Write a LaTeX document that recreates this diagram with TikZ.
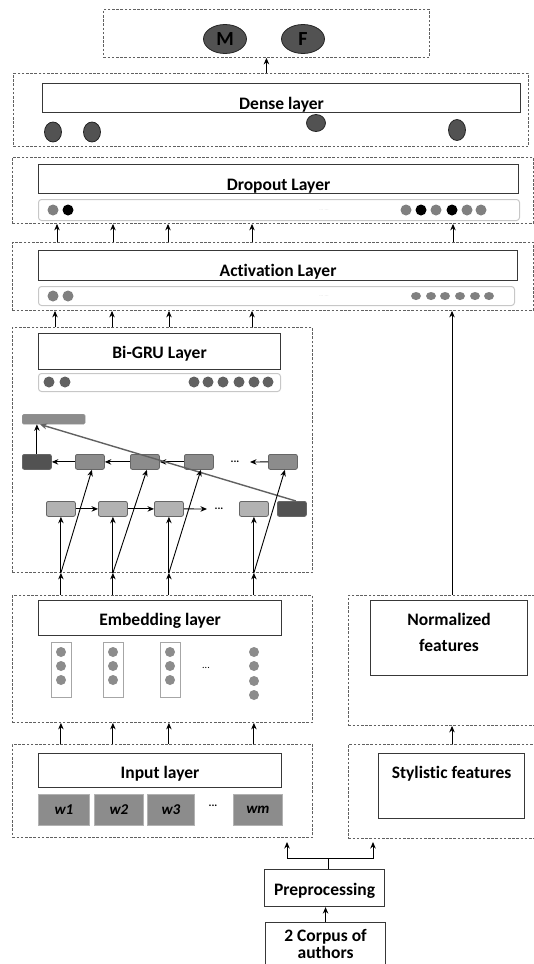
\documentclass[tikz,border=0pt]{standalone}
\usepackage{fontspec}
\setmainfont{Carlito}[Ligatures=NoCommon]
\usetikzlibrary{arrows.meta,shapes.geometric}
\begin{document}
\begin{tikzpicture}[x=1pt,y=-1pt,
  dbox/.style={draw=black!62, dash pattern=on 2.6pt off 1.6pt, line width=0.9pt, anchor=north west, inner sep=0pt},
  lay/.style={draw=black!78, line width=1.1pt, fill=white, anchor=north west, inner sep=0pt, font=\bfseries\fontsize{17.5}{20}\selectfont},
  strip/.style={draw=black!22, line width=1pt, rounded corners=3pt, anchor=north west, inner sep=0pt},
  cell/.style={draw=black!60, line width=0.8pt, rounded corners=2pt, anchor=north west, inner sep=0pt, minimum width=29pt, minimum height=15pt},
  dk/.style={cell, fill=black!68},
  md/.style={cell, fill=black!45},
  lt/.style={cell, fill=black!30},
  dotc/.style={circle, inner sep=0pt, minimum size=11pt},
  blob/.style={ellipse, draw=black!85, line width=0.8pt, fill=black!68, inner sep=0pt},
  arr/.style={-{Stealth[length=6.5pt,width=5.5pt]}, line width=0.9pt},
  wbox/.style={draw=black!30, line width=0.8pt, fill=black!45, anchor=north west, inner sep=0pt, minimum height=31pt, font=\bfseries\itshape\fontsize{15}{17}\selectfont},
  vecbox/.style={draw=black!35, line width=0.8pt, anchor=north west, inner sep=0pt, minimum width=20pt, minimum height=55pt},
  ell/.style={font=\bfseries\fontsize{11}{12}\selectfont, inner sep=0pt}
]
\useasboundingbox (0,0) rectangle (533,964);

% ---------- output ----------
\node[dbox, minimum width=326pt, minimum height=48pt] (outbox) at (103,9) {};
\node[blob, minimum width=43pt, minimum height=29pt, font=\bfseries\fontsize{20}{22}\selectfont] (m) at (225,39) {M};
\node[blob, minimum width=43pt, minimum height=29pt, font=\bfseries\fontsize{20}{22}\selectfont] (f) at (303,39) {F};

% ---------- dense ----------
\node[dbox, minimum width=515pt, minimum height=73pt] (densebox) at (13,73) {};
\node[lay, minimum width=478pt, minimum height=29pt, text height=23pt, text depth=0pt] (dense) at (42,83) {Dense layer};
\node[blob, minimum width=17pt, minimum height=20pt] (d1) at (53,132) {};
\node[blob, minimum width=17pt, minimum height=20pt] (d2) at (92,132) {};
\node[blob, minimum width=19pt, minimum height=17pt] (d3) at (316,123) {};
\node[blob, minimum width=17pt, minimum height=21pt] (d4) at (457,130) {};
\draw[arr] (densebox.north -| outbox.south) -- (outbox.south);

% ---------- dropout ----------
\node[dbox, minimum width=521pt, minimum height=66pt] (dropbox) at (12,157) {};
\node[lay, minimum width=480pt, minimum height=29pt, text height=23pt, text depth=0pt] (dropout) at (38,164) {Dropout Layer};
\node[strip, minimum width=481pt, minimum height=21pt] (dstrip) at (38,199) {};
\foreach \x/\c [count=\i] in {53/black!50, 68/black, 406/black!50, 421/black, 436/black!50, 452/black, 467/black!50, 481/black!50}
  \node[dotc, fill=\c] (dd\i) at (\x,210) {};
\node[font=\tiny, text=black!18] (ddots) at (324,210) {... ...};

% ---------- activation ----------
\node[dbox, minimum width=521pt, minimum height=68pt] (actbox) at (12,242) {};
\node[lay, minimum width=479pt, minimum height=30pt, text height=22pt, text depth=0pt] (act) at (38,250) {Activation Layer};
\node[strip, minimum width=476pt, minimum height=19pt] (astrip) at (38,286) {};
\node[dotc, fill=black!50] (ad1) at (53,296) {};
\node[dotc, fill=black!50] (ad2) at (68,296) {};
\foreach \x [count=\i] in {416,431,445,460,475,489}
  \node[ellipse, inner sep=0pt, minimum width=10pt, minimum height=8pt, fill=black!50] (ae\i) at (\x,296) {};
\node[font=\tiny, text=black!18] (adots) at (324,296) {... ...};
\foreach \x in {57,113,168,252,453}
  \draw[arr] (actbox.north -| \x,0) -- (dropbox.south -| \x,0);

% ---------- Bi-GRU ----------
\node[dbox, minimum width=300pt, minimum height=245pt] (grubox) at (12,327) {};
\node[lay, minimum width=242pt, minimum height=36pt, text height=14pt, text depth=0pt] (gru) at (38,333) {Bi-GRU Layer};
\node[strip, minimum width=242pt, minimum height=18pt] (gstrip) at (38,373) {};
\foreach \x [count=\i] in {49,65,194,208,223,239,254,268}
  \node[dotc, fill=black!62] (gd\i) at (\x,382) {};
\foreach \x in {55,112,169,252}
  \draw[arr] (grubox.north -| \x,0) -- (actbox.south -| \x,0);

\node[draw=black!40, fill=black!45, rounded corners=1.5pt, anchor=north west, inner sep=0pt, minimum width=63pt, minimum height=10pt] (bar) at (22,414) {};
\node[dk] (b0) at (22,454) {};
\node[md] (b1) at (75,454) {};
\node[md] (b2) at (130,454) {};
\node[md] (b3) at (184,454) {};
\node[ell] (bdots) at (235,462) {...};
\node[md] (b4) at (268,454) {};
\node[lt] (f1) at (46,501) {};
\node[lt] (f2) at (98,501) {};
\node[lt] (f3) at (154,501) {};
\node[ell] (fdots) at (219,509) {...};
\node[lt] (f4) at (239,501) {};
\node[dk] (f5) at (277,501) {};
\coordinate (bend4) at (250,462);
\coordinate (fend3) at (207,509);
\draw[arr] (b1.west) -- (b0.east);
\draw[arr] (b2.west) -- (b1.east);
\draw[arr] (b3.west) -- (b2.east);
\draw[arr] (b4.west) -- (bend4);
\draw[arr] (f1.east) -- (f2.west);
\draw[arr] (f2.east) -- (f3.west);
\draw[arr] (f3.east) -- (fend3);
\draw[arr] (b0.north) -- (b0.north |- bar.south);
\draw[-{Stealth[length=7pt,width=6pt]}, draw=black!62, line width=1.4pt] ([xshift=4pt]f5.north) -- ([xshift=18pt]bar.south west);

% ---------- embedding ----------
\node[dbox, minimum width=300pt, minimum height=127pt] (embbox) at (12,595) {};
\node[lay, minimum width=243pt, minimum height=35pt, text height=15pt, text depth=0pt] (emb) at (38,600) {Embedding layer};
\node[vecbox] (v1) at (51,642) {};
\node[vecbox] (v2) at (103,642) {};
\node[vecbox] (v3) at (160,642) {};
\foreach \x/\n in {61/a,113/b,170/c}
  \foreach \y [count=\j] in {652,666,680}
    \node[dotc, minimum size=10pt, fill=black!45] (ec\n\j) at (\x,\y) {};
\foreach \y [count=\j] in {652,666,681,695}
  \node[dotc, minimum size=10pt, fill=black!45] (ecd\j) at (254,\y) {};
\node[font=\fontsize{10}{12}\selectfont, inner sep=0pt] (edots) at (206,668) {...};

\foreach \fb/\bb in {f1/b1,f2/b2,f3/b3,f4/b4}{
  \draw[arr] (embbox.north -| \fb.south) -- (grubox.south -| \fb.south);
  \draw[arr] (grubox.south -| \fb.south) -- (\fb.south);
  \draw[arr] (grubox.south -| \fb.south) -- ([xshift=2pt]\bb.south);
}

% ---------- normalized ----------
\node[dbox, minimum width=190pt, minimum height=130pt] (normbox) at (348,595) {};
\node[lay, minimum width=157pt, minimum height=75pt, text height=27pt, text depth=0pt, font=\bfseries\fontsize{17.5}{26}\selectfont] (norm) at (370,600) {\begin{tabular}[b]{@{}c@{}}Normalized\\features\end{tabular}};
\draw[arr] (normbox.north -| 452,0) -- (actbox.south -| 452,0);

% ---------- input ----------
\node[dbox, minimum width=300pt, minimum height=93pt] (inbox) at (12,744) {};
\node[lay, minimum width=243pt, minimum height=34pt, text height=16pt, text depth=0pt] (inl) at (38,753) {Input layer};
\node[wbox, minimum width=51pt] (w1) at (38,794) {w1};
\node[wbox, minimum width=49pt] (w2) at (94,794) {w2};
\node[wbox, minimum width=47pt] (w3) at (147,794) {w3};
\node[ell] (wdots) at (213,806) {...};
\node[wbox, minimum width=49pt] (wm) at (233,794) {wm};
\foreach \fb in {f1,f2,f3,f4}
  \draw[arr] (inbox.north -| \fb.south) -- (embbox.south -| \fb.south);

% ---------- stylistic ----------
\node[dbox, minimum width=190pt, minimum height=94pt] (stybox) at (348,744) {};
\node[lay, minimum width=146pt, minimum height=65pt, text height=0pt, text depth=15pt] (sty) at (378,753) {Stylistic features};
\draw[arr] (stybox.north -| 452,0) -- (normbox.south -| 452,0);

% ---------- preprocessing & corpus ----------
\node[lay, minimum width=120pt, minimum height=37pt, text height=15pt, text depth=0pt] (prep) at (264,869) {Preprocessing};
\node[lay, minimum width=120pt, minimum height=48pt, text height=24pt, text depth=0pt, font=\bfseries\fontsize{17.5}{16}\selectfont] (corpus) at (265,922) {\begin{tabular}[b]{@{}c@{}}2 Corpus of\\authors\end{tabular}};
\draw[arr] (corpus.north) -- (corpus.north |- prep.south);
\coordinate (inT) at (287,842);
\coordinate (styT) at (373,842);
\draw[arr] ([xshift=4pt]prep.north) -- ++(0,-11) -| (inT);
\draw[arr] ([xshift=4pt]prep.north) -- ++(0,-11) -| (styT);
\end{tikzpicture}
\end{document}
